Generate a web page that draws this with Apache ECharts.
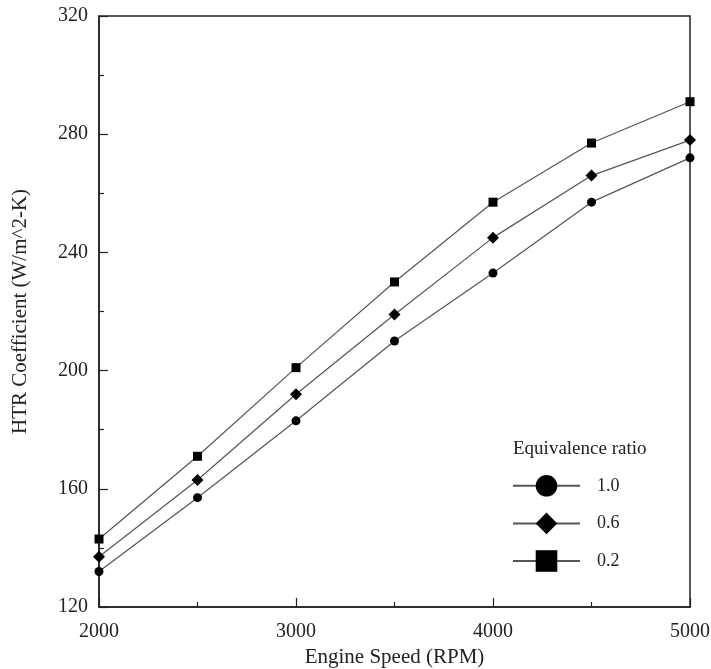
<!DOCTYPE html>
<html>
<head>
<meta charset="utf-8">
<script src="https://cdn.jsdelivr.net/npm/echarts@6/dist/echarts.min.js"></script>
<style>
  html, body { margin: 0; padding: 0; background: #fff; }
  #chart { width: 711px; height: 669px; }
</style>
</head>
<body>
<div id="chart"></div>
<script>
const speeds = [2000, 2500, 3000, 3500, 4000, 4500, 5000]
const ratio10 = [132, 157, 183, 210, 233, 257, 272]
const ratio06 = [137, 163, 192, 219, 245, 266, 278]
const ratio02 = [143, 171, 201, 230, 257, 277, 291]
const yTicks = [120, 160, 200, 240, 280, 320]

const font = 'Liberation Serif'

function pairs(vals) {
  return speeds.map((s, i) => [s, vals[i]])
}

function lineSeries(name, vals, symbol, size) {
  return {
    name: name,
    type: 'line',
    data: pairs(vals),
    symbol: symbol,
    symbolSize: size,
    showAllSymbol: true,
    lineStyle: { color: '#555', width: 1.2 },
    itemStyle: { color: '#000' },
    emphasis: { disabled: true }
  }
}

const myChart = echarts.init(document.getElementById('chart'))

const option = {
  backgroundColor: '#fff',
  animation: false,
  title: {
    text: 'Equivalence ratio',
    left: 508,
    top: 435,
    textStyle: { fontFamily: font, fontSize: 19, fontWeight: 'normal', color: '#222' }
  },
  legend: {
    orient: 'vertical',
    left: 507,
    top: 470,
    itemWidth: 67,
    itemHeight: 27,
    itemGap: 16,
    data: ['1.0', '0.6', '0.2'],
    textStyle: { fontFamily: font, fontSize: 18, color: '#222', padding: [0, 0, 0, 12] }
  },
  grid: {
    left: 99,
    right: 21,
    top: 16,
    bottom: 62,
    outerBoundsMode: 'none',
    show: true,
    borderColor: '#222',
    borderWidth: 1.5
  },
  xAxis: {
    type: 'value',
    min: 2000,
    max: 5000,
    interval: 1000,
    name: 'Engine Speed (RPM)',
    nameLocation: 'middle',
    nameGap: 36,
    nameTextStyle: { fontFamily: font, fontSize: 21, color: '#222' },
    axisLine: { lineStyle: { color: '#222', width: 1.5 } },
    axisTick: { inside: true, length: 9, lineStyle: { color: '#222', width: 1.2 } },
    minorTick: { show: true, splitNumber: 2, length: 5, lineStyle: { color: '#222', width: 1.2 } },
    axisLabel: { fontFamily: font, fontSize: 20, color: '#222', margin: 15, formatter: v => String(v) },
    splitLine: { show: false }
  },
  yAxis: {
    type: 'value',
    min: yTicks[0],
    max: yTicks[yTicks.length - 1],
    interval: 40,
    name: 'HTR Coefficient (W/m^2-K)',
    nameLocation: 'middle',
    nameGap: 68,
    nameTextStyle: { fontFamily: font, fontSize: 21, color: '#222' },
    axisLine: { lineStyle: { color: '#222', width: 1.5 } },
    axisTick: { inside: true, length: 9, lineStyle: { color: '#222', width: 1.2 } },
    minorTick: { show: true, splitNumber: 2, length: 5, lineStyle: { color: '#222', width: 1.2 } },
    axisLabel: { fontFamily: font, fontSize: 20, color: '#222', margin: 11 },
    splitLine: { show: false }
  },
  series: [
    lineSeries('1.0', ratio10, 'circle', 9),
    lineSeries('0.6', ratio06, 'diamond', [12, 12]),
    lineSeries('0.2', ratio02, 'rect', 9)
  ]
}

option && myChart.setOption(option)
</script>
</body>
</html>
